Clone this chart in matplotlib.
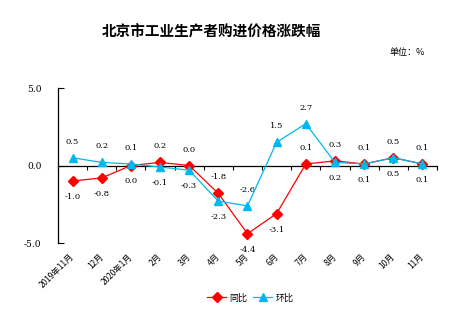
import matplotlib
matplotlib.use('Agg')
import matplotlib.pyplot as plt
import matplotlib.transforms as mtransforms
import numpy as np

plt.rcParams['font.family'] = ['Noto Sans CJK SC', 'DejaVu Sans']

# 数据
months = ['2019年11月', '12月', '2020年1月', '2月', '3月', '4月', '5月',
          '6月', '7月', '8月', '9月', '10月', '11月']
tongbi = [-1.0, -0.8, 0.0, 0.2, 0.0, -1.8, -4.4, -3.1, 0.1, 0.3, 0.1, 0.5, 0.1]
huanbi = [0.5, 0.2, 0.1, -0.1, -0.3, -2.3, -2.6, 1.5, 2.7, 0.2, 0.1, 0.5, 0.1]
# 标签位置: 1 = 上方, -1 = 下方
tongbi_side = [-1, -1, -1, 1, 1, 1, -1, -1, 1, 1, 1, 1, 1]
huanbi_side = [1, 1, 1, -1, -1, -1, 1, 1, 1, -1, -1, -1, -1]

red = '#FF0000'
blue = '#00B8F0'

fig = plt.figure(figsize=(4.76, 3.3), dpi=100)
ax = fig.add_axes([0.1218, 0.2636, 0.7962, 0.4697])

x = np.arange(len(months))
ax.plot(x, tongbi, color=red, linewidth=0.9, marker='D', markersize=5,
        label='同比', zorder=3)
ax.plot(x, huanbi, color=blue, linewidth=0.9, marker='^', markersize=6,
        label='环比', zorder=4)

for xi, v, s in zip(x, tongbi, tongbi_side):
    ax.annotate(f'{v:.1f}', (xi, v), xytext=(0, 11.5 * s), textcoords='offset points',
                ha='center', va='center', fontsize=6, family='DejaVu Serif')
for xi, v, s in zip(x, huanbi, huanbi_side):
    ax.annotate(f'{v:.1f}', (xi, v), xytext=(0, 11.5 * s), textcoords='offset points',
                ha='center', va='center', fontsize=6, family='DejaVu Serif')

ax.set_xlim(-0.5, len(months) - 0.5)
ax.set_ylim(-5, 5)
ax.set_yticks([-5, 0, 5])
ax.set_yticklabels(['-5.0', '0.0', '5.0'], fontsize=6.5, family='DejaVu Serif')
ax.tick_params(axis='y', direction='in', length=4, width=0.8, pad=12)

for side in ['top', 'right']:
    ax.spines[side].set_visible(False)
ax.spines['left'].set_linewidth(0.9)
ax.spines['bottom'].set_position(('data', 0))
ax.spines['bottom'].set_linewidth(0.9)
ax.set_xticks(np.arange(len(months) + 1) - 0.5)
ax.set_xticklabels([])
ax.tick_params(axis='x', direction='out', length=3, width=0.8)

trans = mtransforms.blended_transform_factory(ax.transData, ax.transAxes)
for xi, lab in zip(x, months):
    ax.text(xi - 0.1, -0.06, lab, transform=trans, rotation=45,
            rotation_mode='anchor', ha='right', va='top', fontsize=6)

fig.text(0.445, 0.905, '北京市工业生产者购进价格涨跌幅', ha='center', va='center',
         fontsize=10.5, fontweight='bold')
fig.text(0.855, 0.84, '单位：%', ha='center', va='center', fontsize=6.5)

ax.legend(loc='center', bbox_to_anchor=(0.525, 0.097), bbox_transform=fig.transFigure,
          ncol=2, frameon=False, fontsize=6.5, handlelength=2.2, columnspacing=0.6,
          handletextpad=0.3)

fig.savefig('out.png', dpi=100)
